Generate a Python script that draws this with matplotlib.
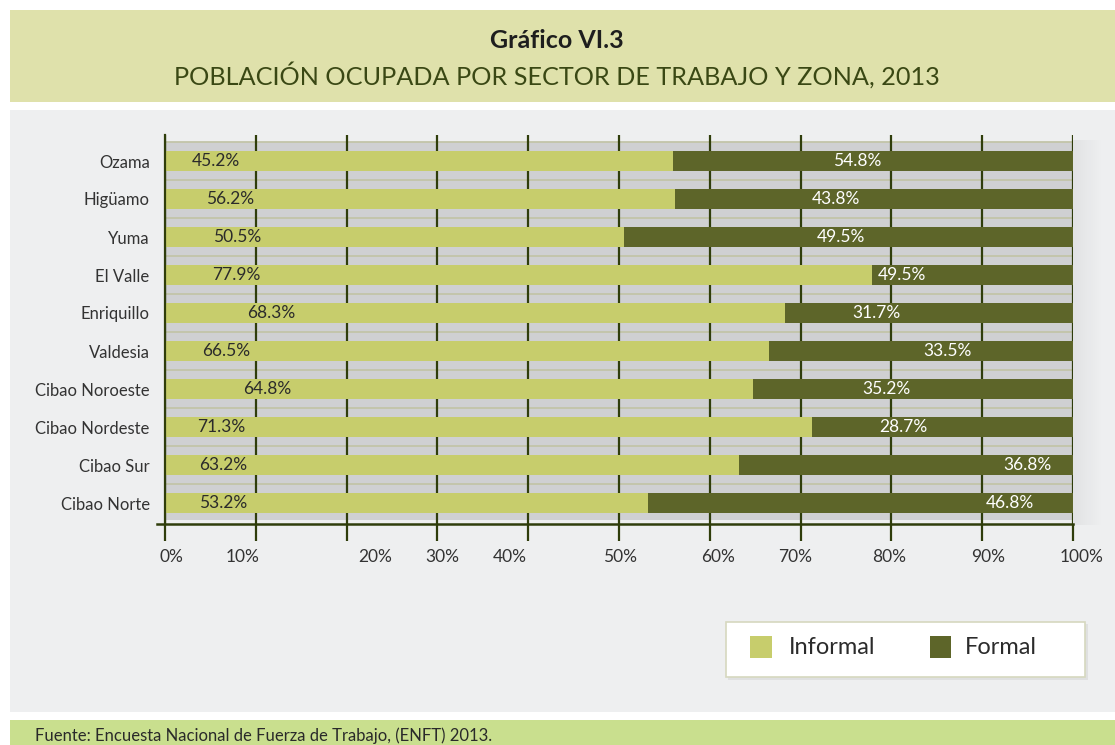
import matplotlib
matplotlib.use("Agg")
import matplotlib.pyplot as plt
from matplotlib.patches import Rectangle
from matplotlib.transforms import blended_transform_factory

plt.rcParams['font.family'] = ['Lato', 'DejaVu Sans']

# Data
zones = ["Ozama", "Higüamo", "Yuma", "El Valle", "Enriquillo", "Valdesia",
         "Cibao Noroeste", "Cibao Nordeste", "Cibao Sur", "Cibao Norte"]
informal = [56.0, 56.2, 50.5, 77.9, 68.3, 66.5, 64.8, 71.3, 63.2, 53.2]
formal = [44.0, 43.8, 49.5, 22.1, 31.7, 33.5, 35.2, 28.7, 36.8, 46.8]
informal_labels = ["45.2%", "56.2%", "50.5%", "77.9%", "68.3%",
                   "66.5%", "64.8%", "71.3%", "63.2%", "53.2%"]
formal_labels = ["54.8%", "43.8%", "49.5%", "49.5%", "31.7%",
                 "33.5%", "35.2%", "28.7%", "36.8%", "46.8%"]
tick_labels = ["0%", "10%", "20%", "30%", "40%", "50%",
               "60%", "70%", "80%", "90%", "100%"]

# layout (where the original put its labels)
informal_label_x = [5.6, 7.2, 7.9, 7.9, 11.7, 6.7, 11.3, 6.2, 6.4, 6.4]
formal_label_x = [76.2, 73.9, 74.5, 81.2, 78.4, 86.2, 79.5, 81.3, 95.0, 93.1]
tick_label_x = [0.7, 8.5, 23.2, 30.5, 38.0, 50.1, 60.9, 69.4, 79.8, 90.6, 100.9]

c_inf = "#c7cd6c"
c_for = "#5d6529"
c_line = "#2f3d0b"
W, H = 1115, 745

fig = plt.figure(figsize=(W / 100, H / 100), dpi=100)
fig.patch.set_facecolor("white")


def box(x0, y0, x1, y1, z=-5, **kw):
    # rectangle in pixel coords (origin top-left)
    r = Rectangle((x0 / W, 1 - y1 / H), (x1 - x0) / W, (y1 - y0) / H,
                  transform=fig.transFigure, zorder=z, **kw)
    fig.patches.append(r)
    return r


box(10, 10, W, 102, facecolor="#dfe1ab", edgecolor="none")
box(10, 110, W, 712, facecolor="#eeeff0", edgecolor="none")
box(10, 720, W, H, facecolor="#c9df8e", edgecolor="none")
# soft shadow right of the plot
for k in range(14):
    box(1073 + k * 2, 140, 1075 + k * 2, 525,
        facecolor="#b8b9bb", edgecolor="none", alpha=0.22 * (1 - k / 14))

fig.text(557 / W, 1 - 40 / H, "Gráfico VI.3", ha="center", va="center",
         fontsize=18, fontweight="bold", color="#1e1e1e")
fig.text(557 / W, 1 - 75 / H, "POBLACIÓN OCUPADA POR SECTOR DE TRABAJO Y ZONA, 2013",
         ha="center", va="center", fontsize=18.2, color="#3a4814")
fig.text(35 / W, 1 - 736 / H, "Fuente: Encuesta Nacional de Fuerza de Trabajo, (ENFT) 2013.",
         ha="left", va="center", fontsize=12, color="#2a2a2a")

# plot area
top, bot = 135, 524
ax = fig.add_axes([165 / W, 1 - bot / H, (1073 - 165) / W, (bot - top) / H])
ax.set_facecolor("none")
y = list(range(len(zones)))
ax.set_xlim(0, 100)
ax.set_ylim((bot - 161) / 38, (top - 161) / 38)

ax.axhspan(-0.5, 9.45, facecolor="#cfd0d2", edgecolor="none", zorder=0)
for i in y:
    ax.axhline(i - 0.5, color="#c2c4a8", lw=1.3, zorder=1)
for v in range(0, 101, 10):
    ax.axvline(v, color=c_line, lw=1.6, zorder=1)

ax.barh(y, informal, height=0.53, color=c_inf, zorder=2)
ax.barh(y, formal, left=informal, height=0.53, color=c_for, zorder=2)

for i in y:
    ax.text(informal_label_x[i], i, informal_labels[i], ha="center", va="center",
            fontsize=12.5, color="#2b2b2b", zorder=3)
    ax.text(formal_label_x[i], i, formal_labels[i], ha="center", va="center",
            fontsize=12.5, color="white", zorder=3)

ax.set_yticks(y)
ax.set_yticklabels(zones, fontsize=12, color="#333333")
ax.tick_params(axis="y", length=0, pad=11)
ax.set_xticks(range(0, 101, 10))
ax.set_xticklabels([])
ax.tick_params(axis="x", direction="out", length=12, width=1.6, color=c_line)

trans = blended_transform_factory(ax.transData, ax.transAxes)
for xv, lab in zip(tick_label_x, tick_labels):
    ax.text(xv, -33 / (bot - top), lab, transform=trans, ha="center", va="center",
            fontsize=12.5, color="#333333")

for s in ["top", "right"]:
    ax.spines[s].set_visible(False)
ax.spines["left"].set_color(c_line)
ax.spines["left"].set_linewidth(1.6)
ax.spines["bottom"].set_color(c_line)
ax.spines["bottom"].set_linewidth(1.8)
ax.spines["bottom"].set_bounds(-0.9, 100)

# legend box
box(728, 624, 1088, 680, z=1, facecolor="#dfe0e0", edgecolor="none")
box(726, 622, 1085, 677, z=2, facecolor="white", edgecolor="#d6d8bf", linewidth=1.2)
box(750, 636, 772, 658, z=3, facecolor=c_inf, edgecolor="none")
box(930, 636, 951, 658, z=3, facecolor=c_for, edgecolor="none")
fig.text(789 / W, 1 - 648 / H, "Informal", ha="left", va="center",
         fontsize=17, color="#2b2b2b")
fig.text(965 / W, 1 - 648 / H, "Formal", ha="left", va="center",
         fontsize=17, color="#2b2b2b")

fig.savefig("out.png", dpi=100)
